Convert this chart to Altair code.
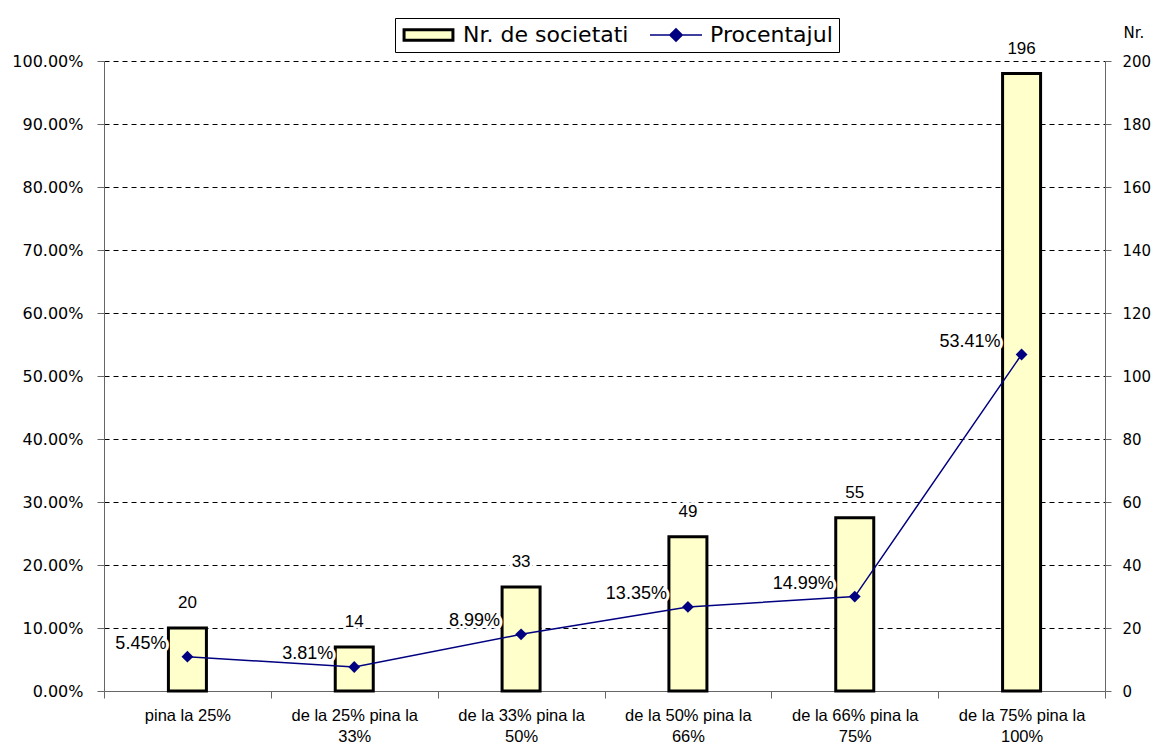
import altair as alt
import pandas as pd

# ---- data ----
categories = [
    "pina la 25%",
    "de la 25% pina la\n33%",
    "de la 33% pina la\n50%",
    "de la 50% pina la\n66%",
    "de la 66% pina la\n75%",
    "de la 75% pina la\n100%",
]
counts = [20, 14, 33, 49, 55, 196]
percents = [0.0545, 0.0381, 0.0899, 0.1335, 0.1499, 0.5341]
series_names = ["Nr. de societati", "Procentajul"]
pct_ticks = [0.0, 0.1, 0.2, 0.3, 0.4, 0.5, 0.6, 0.7, 0.8, 0.9, 1.0]
count_ticks = [0, 20, 40, 60, 80, 100, 120, 140, 160, 180, 200]

df = pd.DataFrame({"category": categories, "count": counts, "pct": percents})

AXIS_FONT = "DejaVu Sans"
LABEL_FONT = "Liberation Sans"
AXIS_GRAY = "#666666"
BAR_FILL = "#FFFFCC"
NAVY = "#000080"
RECT_PATH = "M-0.94,-0.2H0.94V0.2H-0.94Z"
LINE_PATH = "M-1,0H1M0,-0.24L0.24,0L0,0.24L-0.24,0Z"

x_enc = alt.X(
    "category:N",
    sort=categories,
    scale=alt.Scale(paddingInner=0, paddingOuter=0),
    axis=alt.Axis(
        title=None,
        tickBand="extent",
        labelExpr="split(datum.label, '\\n')",
        labelFont=LABEL_FONT,
        labelFontSize=16.5,
        labelColor="black",
        labelLineHeight=21,
        labelPadding=9,
        labelBaseline="top",
        labelAngle=0,
        tickSize=7,
        tickColor=AXIS_GRAY,
        domainColor=AXIS_GRAY,
        grid=False,
    ),
)

cnt_scale = alt.Scale(domain=[0, 200], nice=False)
cnt_axis = alt.Axis(
    title="Nr.",
    orient="right",
    values=count_ticks,
    labelFont=AXIS_FONT,
    labelFontSize=15,
    labelColor="black",
    labelPadding=11,
    tickSize=6,
    tickColor=AXIS_GRAY,
    domainColor=AXIS_GRAY,
    grid=False,
    titleAngle=0,
    titleX=18,
    titleY=-24,
    titleAlign="left",
    titleBaseline="alphabetic",
    titleFont=AXIS_FONT,
    titleFontSize=15,
    titleFontWeight="normal",
    titleColor="black",
)

pct_scale = alt.Scale(domain=[0, 1], nice=False)
pct_axis = alt.Axis(
    title=None,
    orient="left",
    values=pct_ticks,
    format=".2%",
    labelFont=AXIS_FONT,
    labelFontSize=16,
    labelColor="black",
    labelPadding=14,
    tickSize=7,
    tickColor=AXIS_GRAY,
    domainColor=AXIS_GRAY,
    grid=True,
    gridColor="black",
    gridDash=[5, 4],
    gridWidth=1,
    gridOpacity={"condition": {"test": "datum.value == 0", "value": 0}, "value": 1},
)

legend = alt.Legend(
    title=None,
    orient="none",
    legendX=291,
    legendY=-43,
    direction="horizontal",
    symbolSize=2704,
    clipHeight=22,
    labelFont=AXIS_FONT,
    labelFontSize=22,
    labelColor="black",
    labelLimit=400,
    labelOffset=7,
    columnPadding=20,
    padding=6,
    strokeColor="black",
    fillColor="white",
)

# hidden legend carriers (drawn under the bars)
hidden = (
    alt.Chart()
    .transform_fold(["count", "pct"], as_=["key", "val"])
    .transform_calculate(
        series=f"datum.key == 'count' ? '{series_names[0]}' : '{series_names[1]}'",
        half="datum.count / 2",
    )
    .mark_point(filled=True, size=30, opacity=1)
    .encode(
        x=x_enc,
        y=alt.Y("half:Q", scale=cnt_scale, axis=cnt_axis),
        fill=alt.Fill("series:N", scale=alt.Scale(domain=series_names, range=[BAR_FILL, NAVY]), legend=legend),
        stroke=alt.Stroke("series:N", scale=alt.Scale(domain=series_names, range=["black", NAVY]), legend=legend),
        shape=alt.Shape("series:N", scale=alt.Scale(domain=series_names, range=[RECT_PATH, LINE_PATH]), legend=legend),
        strokeWidth=alt.StrokeWidth("series:N", scale=alt.Scale(domain=series_names, range=[3, 1.5]), legend=legend),
    )
)

bars = alt.Chart().mark_bar(width=38, fill=BAR_FILL, stroke="black", strokeWidth=3).encode(
    x=x_enc, y=alt.Y("count:Q", scale=cnt_scale, axis=cnt_axis)
)

cnt_halo = alt.Chart().mark_text(
    dy=-20, baseline="alphabetic", font=LABEL_FONT, fontSize=17, stroke="white", strokeWidth=6,
    strokeJoin="round", fill="white",
).encode(x=x_enc, y=alt.Y("count:Q", scale=cnt_scale, axis=cnt_axis), text=alt.Text("count:Q"))

cnt_text = alt.Chart().mark_text(
    dy=-20, baseline="alphabetic", font=LABEL_FONT, fontSize=17, color="black"
).encode(x=x_enc, y=alt.Y("count:Q", scale=cnt_scale, axis=cnt_axis), text=alt.Text("count:Q"))

line = alt.Chart().mark_line(color=NAVY, strokeWidth=1.5).encode(
    x=x_enc, y=alt.Y("pct:Q", scale=pct_scale, axis=pct_axis)
)

points = alt.Chart().mark_point(shape="diamond", filled=True, size=140, color=NAVY, opacity=1).encode(
    x=x_enc, y=alt.Y("pct:Q", scale=pct_scale, axis=pct_axis)
)

pct_halo = alt.Chart().mark_text(
    align="right", dx=-21, dy=-8, baseline="alphabetic", font=LABEL_FONT, fontSize=18,
    stroke="white", strokeWidth=6, strokeJoin="round", fill="white",
).encode(x=x_enc, y=alt.Y("pct:Q", scale=pct_scale, axis=pct_axis), text=alt.Text("pct:Q", format=".2%"))

pct_text = alt.Chart().mark_text(
    align="right", dx=-21, dy=-8, baseline="alphabetic", font=LABEL_FONT, fontSize=18, color="black"
).encode(x=x_enc, y=alt.Y("pct:Q", scale=pct_scale, axis=pct_axis), text=alt.Text("pct:Q", format=".2%"))

bars_group = alt.layer(hidden, bars, cnt_halo, cnt_text)
line_group = alt.layer(line, points, pct_halo, pct_text)

chart = (
    alt.layer(bars_group, line_group, data=df)
    .resolve_scale(y="independent")
    .properties(
        width=1001,
        height=630,
        autosize=alt.AutoSizeParams(type="none"),
        padding={"left": 96, "top": 53, "right": 46, "bottom": 53},
        background="white",
    )
    .configure_view(stroke="transparent")
)

chart.save("out.html", embed_options={"renderer": "svg", "actions": False})
